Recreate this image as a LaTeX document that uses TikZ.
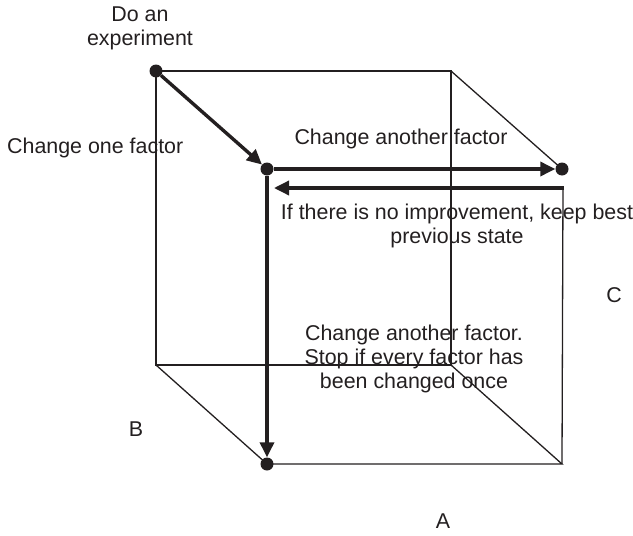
\documentclass[tikz,border=0pt]{standalone}
\usepackage{fontspec}
\setmainfont{Liberation Sans}
\usetikzlibrary{arrows.meta,calc}
\definecolor{ink}{HTML}{231F20}
\tikzset{
  dot/.style = {circle, fill=ink, inner sep=0pt, minimum size=13pt},
  edge/.style = {ink, line width=1.3pt},
  move/.style = {ink, line width=3.4pt, -{Triangle[length=15pt, width=14pt]}},
  lbl/.style = {text=ink, inner sep=0pt, align=center, font=\fontsize{21.4}{24}\selectfont}
}

\begin{document}
\begin{tikzpicture}[x=1pt, y=-1pt]
\useasboundingbox (0,0) rectangle (633,536);
\node[dot] (exp) at (156,71) {};
\node[dot] (s1) at (267,169) {};
\node[dot] (s2) at (562,169) {};
\node[dot] (s3) at (267,464) {};
\coordinate (tr) at (451,71);
\coordinate (bl) at (156,365);
\coordinate (br) at (451,365);
\coordinate (fbr) at (562,464);
\coordinate (back) at (563,188);
\coordinate (keep) at (274,188);
\draw[edge] (exp.center)--(tr)--(br)--(bl)--(exp.center);
\draw[edge] (tr)--(s2.center);
\draw[edge] (bl)--(s3.center)--(fbr)--(br);
\draw[edge] (fbr)--(back);
\draw[move] (exp)--(s1);
\draw[move] (s1)--(s2);
\draw[move] (s1)--(s3);
\draw[move, shorten <=-1pt] (back)--(keep);
\node[lbl, anchor = base] (doan) at (140,45) {Do an\\experiment};
\node[lbl, anchor = base west] (one) at (7,153) {Change one factor};
\node[lbl, anchor = base] (another) at (401,144) {Change another factor};
\node[lbl, anchor = base] (nogain) at (457,243) {If there is no improvement, keep best\\previous state};
\node[lbl, anchor = base] (stop) at (414,388) {Change another factor.\\Stop if every factor has\\been changed once};
\node[lbl, anchor = base] (C) at (614,302) {C};
\node[lbl, anchor = base] (B) at (136,436) {B};
\node[lbl, anchor = base] (A) at (443,528) {A};
\end{tikzpicture}
\end{document}
